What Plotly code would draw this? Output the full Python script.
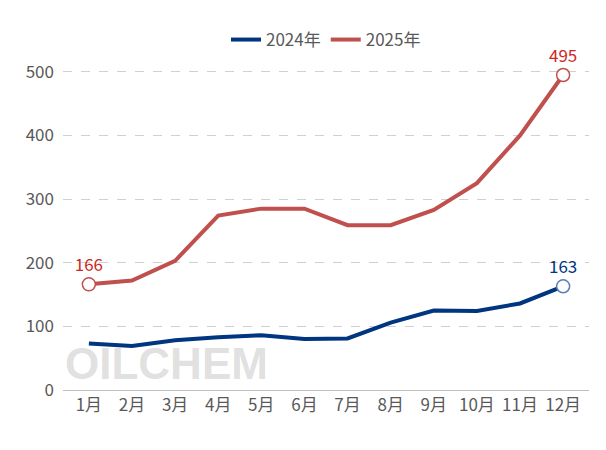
import plotly.graph_objects as go

months = [f"{i}月" for i in range(1, 13)]
y2024 = [73, 69, 78, 83, 86, 80, 81, 106, 125, 124, 136, 163]
y2025 = [166, 172, 203, 274, 285, 285, 259, 259, 283, 325, 400, 495]

blue = '#003580'
red = '#c0504d'

fig = go.Figure()
fig.add_trace(go.Scatter(x=months, y=y2024, name='2024年', mode='lines',
                         line=dict(color=blue, width=4)))
fig.add_trace(go.Scatter(x=months, y=y2025, name='2025年', mode='lines',
                         line=dict(color=red, width=4)))

# end markers
fig.add_trace(go.Scatter(x=[months[-1]], y=[y2024[-1]], mode='markers+text', showlegend=False,
                         marker=dict(size=13, color='white', line=dict(color='#5b7fb5', width=1.5)),
                         text=[str(y2024[-1])], textposition='top center',
                         textfont=dict(color=blue, size=17)))
fig.add_trace(go.Scatter(x=[months[0], months[-1]], y=[y2025[0], y2025[-1]], mode='markers+text',
                         showlegend=False,
                         marker=dict(size=13, color='white', line=dict(color=red, width=1.5)),
                         text=[str(y2025[0]), str(y2025[-1])], textposition='top center',
                         textfont=dict(color='#d0281e', size=17)))

fig.add_annotation(text='<b>OILCHEM</b>', xref='paper', yref='paper', x=0.0, y=0.0,
                   xanchor='left', yanchor='bottom', showarrow=False,
                   font=dict(size=44, color='rgba(150,150,150,0.3)', family='Liberation Sans'))

fig.update_layout(
    width=606, height=450, plot_bgcolor='white', paper_bgcolor='white',
    margin=dict(l=55, r=25, t=32, b=68, autoexpand=False),
    font=dict(family='Noto Sans CJK SC', size=17, color='#595959'),
    legend=dict(orientation='h', x=0.5, xanchor='center', y=1.0, yanchor='middle',
                font=dict(size=17)),
    xaxis=dict(showline=True, linecolor='#bfbfbf', linewidth=1, ticks='', showgrid=False,
               range=[-0.6, 11.6]),
    yaxis=dict(range=[0, 550], dtick=100, showgrid=True, gridcolor='#d0d0d0',
               griddash='dash', zeroline=False, ticks='', ticklabelstandoff=8),
)

fig.write_html("out.html")
